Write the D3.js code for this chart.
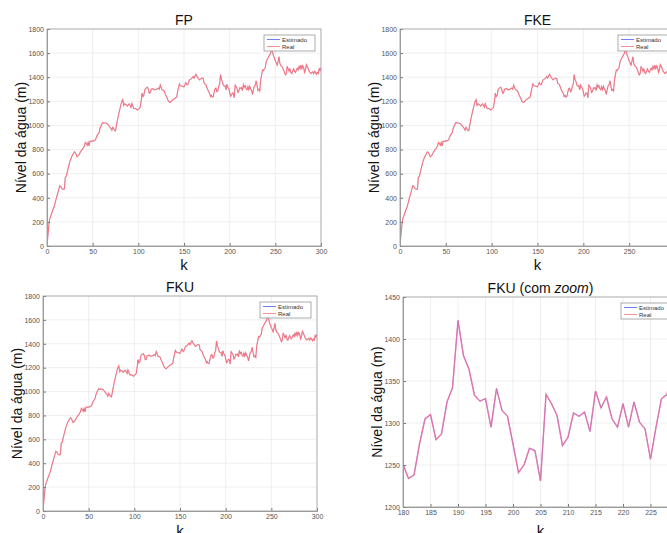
<!DOCTYPE html>
<html>
<head>
<meta charset="utf-8">
<script src="https://cdn.jsdelivr.net/npm/d3@7"></script>
<style>
  body { margin: 0; background: #fff; }
  svg { display: block; font-family: "Liberation Sans", Arial, sans-serif; }
  .grid line { stroke: #ebebeb; stroke-width: 0.8; }
  .tick text { fill: #555; font-size: 7px; }
</style>
</head>
<body>
<div id="chart"></div>
<script>
// readings of the water level: sample index k and level (m)
const kVals = [0,1,2,3,4,6,8,10,12,14,15,16,18,19,20,21,23,25,27,29,30,31,33,35,37,39,41,42,43,44,45,46,47,49,51,53,55,57,58,60,61,62,64,66,68,70,71,72,74,75,77,79,81,82,83,84,85,87,88,90,91,92,93,95,97,99,100,101,102,103,104,105,106,107,108,110,111,112,113,114,116,118,120,122,123,124,126,128,130,132,133,135,136,138,140,142,143,145,146,148,150,152,153,154,156,158,160,161,163,165,167,169,171,172,174,176,178,179,
  180,181,182,183,184,185,186,187,188,189,190,191,192,193,194,195,196,197,198,199,200,201,202,203,204,205,206,207,208,209,210,211,212,213,214,215,216,217,218,219,220,221,222,223,224,225,226,227,228,229,230,231,232,233,234,235,236,237,238,239,240,241,242,243,244,245,246,247,248,249,250,251,252,253,254,255,256,257,258,259,260,261,262,263,264,265,266,267,268,270,271,272,274,275,276,277,278,279,280,281,282,283,284,285,286,287,289,290,291,292,293,294,295,296,297,298,299,300];
const nivelReal = [0,90,170,225,245,290,330,390,445,500,495,478,470,472,570,575,640,700,740,770,782,775,740,755,785,805,830,860,850,835,860,830,868,870,872,880,920,940,975,1010,1025,1020,1020,1015,995,975,960,985,960,955,1040,1110,1175,1200,1215,1165,1180,1170,1160,1180,1165,1150,1182,1140,1140,1128,1135,1142,1150,1197,1267,1239,1250,1295,1308,1317,1300,1267,1270,1300,1305,1295,1300,1310,1300,1336,1295,1290,1253,1220,1200,1190,1200,1215,1225,1235,1280,1345,1330,1325,1320,1356,1340,1336,1378,1386,1406,1392,1425,1397,1378,1392,1392,1350,1336,1295,1267,1240,
  1251,1234,1238,1275,1305,1310,1280,1287,1325,1342,1422,1380,1364,1333,1326,1329,1295,1341,1315,1308,1275,1241,1250,1270,1267,1231,1334,1323,1309,1273,1283,1312,1308,1313,1290,1338,1318,1331,1305,1295,1323,1295,1325,1301,1293,1257,1295,1329,1334,1370,1330,1290,1300,1285,1380,1420,1460,1455,1470,1480,1530,1545,1560,1575,1585,1605,1620,1610,1575,1560,1535,1520,1500,1530,1570,1515,1495,1490,1480,1460,1440,1418,1430,1490,1470,1450,1470,1440,1430,1470,1450,1440,1475,1460,1490,1470,1500,1470,1495,1480,1440,1460,1505,1490,1470,1450,1430,1440,1445,1430,1450,1440,1425,1440,1430,1470,1455,1480];
// the estimate lies on top of the real level everywhere in the figure
const nivelEstimado = nivelReal.slice();

const fullTicksX = [0,50,100,150,200,250,300];
const fullTicksY = [0,200,400,600,800,1000,1200,1400,1600,1800];
const zoomTicksX = [180,185,190,195,200,205,210,215,220,225,230];
const zoomTicksY = [1200,1250,1300,1350,1400,1450];
const legendLabels = ["Estimado", "Real"];

const W = 667, H = 533;
const svg = d3.select("#chart").append("svg").attr("width", W).attr("height", H);

const real = kVals.map((k, i) => ({k: k, v: nivelReal[i]}));
const est = kVals.map((k, i) => ({k: k, v: nivelEstimado[i]}));

// panels: position of the plot box, domains and titles
const panels = [
  {id: "p1", title: ["FP"], x0: 47, x1: 321, y0: 29, y1: 246, xd: [0, 300], yd: [0, 1800], tx: fullTicksX, ty: fullTicksY, kY: 270, zoom: false},
  {id: "p2", title: ["FKE"], x0: 400, x1: 675, y0: 29, y1: 246, xd: [0, 300], yd: [0, 1800], tx: fullTicksX, ty: fullTicksY, kY: 270, zoom: false},
  {id: "p3", title: ["FKU"], x0: 43, x1: 317, y0: 296, y1: 511, xd: [0, 300], yd: [0, 1800], tx: fullTicksX, ty: fullTicksY, kY: 536, zoom: false},
  {id: "p4", title: ["FKU (com ", "zoom", ")"], x0: 403, x1: 678, y0: 297, y1: 507, xd: [180, 230], yd: [1200, 1450], tx: zoomTicksX, ty: zoomTicksY, kY: 536, zoom: true}
];

panels.forEach(p => {
  const x = d3.scaleLinear().domain(p.xd).range([p.x0, p.x1]);
  const y = d3.scaleLinear().domain(p.yd).range([p.y1, p.y0]);
  const g = svg.append("g");

  // grid
  const grid = g.append("g").attr("class", "grid");
  grid.selectAll("line.gx").data(p.tx).join("line")
    .attr("class", "gx")
    .attr("x1", d => x(d)).attr("x2", d => x(d))
    .attr("y1", p.y0).attr("y2", p.y1);
  grid.selectAll("line.gy").data(p.ty).join("line")
    .attr("class", "gy")
    .attr("x1", p.x0).attr("x2", p.x1)
    .attr("y1", d => y(d)).attr("y2", d => y(d));

  // clipped data lines
  g.append("clipPath").attr("id", "clip-" + p.id)
    .append("rect").attr("x", p.x0).attr("y", p.y0)
    .attr("width", p.x1 - p.x0).attr("height", p.y1 - p.y0);

  const line = d3.line().x(d => x(d.k)).y(d => y(d.v));
  const inDom = d => d.k >= p.xd[0] - 2 && d.k <= p.xd[1] + 2;
  const lines = g.append("g").attr("clip-path", "url(#clip-" + p.id + ")");
  lines.append("path").datum(est.filter(inDom))
    .attr("d", line).attr("fill", "none")
    .attr("stroke", "#3040ff").attr("stroke-width", p.zoom ? 0.6 : 0.3);
  lines.append("path").datum(real.filter(inDom))
    .attr("d", line).attr("fill", "none")
    .attr("stroke", p.zoom ? "#f06a9a" : "#ff6060")
    .attr("stroke-opacity", p.zoom ? 0.75 : 0.8)
    .attr("stroke-width", p.zoom ? 1.5 : 1.1);

  // axes (MATLAB style: ticks inwards)
  g.append("g").attr("transform", "translate(0," + p.y1 + ")")
    .call(d3.axisBottom(x).tickValues(p.tx).tickSize(-3).tickPadding(3).tickFormat(d3.format("d")))
    .call(a => a.select(".domain").attr("stroke", "#999"))
    .call(a => a.selectAll(".tick line").attr("stroke", "#777"));
  g.append("g").attr("transform", "translate(" + p.x0 + ",0)")
    .call(d3.axisLeft(y).tickValues(p.ty).tickSize(-3).tickPadding(3).tickFormat(d3.format("d")))
    .call(a => a.select(".domain").attr("stroke", "#999"))
    .call(a => a.selectAll(".tick line").attr("stroke", "#777"));
  g.append("rect").attr("x", p.x0).attr("y", p.y0)
    .attr("width", p.x1 - p.x0).attr("height", p.y1 - p.y0)
    .attr("fill", "none").attr("stroke", "#a0a0a0").attr("stroke-width", 0.8);

  // title
  const t = g.append("text").attr("x", (p.x0 + p.x1) / 2).attr("y", p.y0 - 4)
    .attr("text-anchor", "middle").attr("font-size", 14).attr("fill", "#111");
  p.title.forEach((s, i) => t.append("tspan").text(s).attr("font-style", i === 1 ? "italic" : null));

  // axis labels
  g.append("text").attr("x", (p.x0 + p.x1) / 2).attr("y", p.kY)
    .attr("text-anchor", "middle").attr("font-size", 15).attr("fill", "#111").text("k");
  g.append("text")
    .attr("transform", "translate(" + (p.x0 - 21) + "," + ((p.y0 + p.y1) / 2) + ") rotate(-90)")
    .attr("text-anchor", "middle").attr("font-size", 14).attr("fill", "#111")
    .text("Nível da água (m)");

  // legend
  const lw = 51, lh = 16;
  const lx = p.x1 - 6 - lw, ly = p.y0 + 6;
  const lg = g.append("g").attr("transform", "translate(" + lx + "," + ly + ")");
  lg.append("rect").attr("width", lw).attr("height", lh)
    .attr("fill", "#fff").attr("stroke", "#888").attr("stroke-width", 0.7);
  const cols = ["#7080ff", "#ff9090"];
  legendLabels.forEach((lab, i) => {
    const yy = 4.5 + i * 7;
    lg.append("line").attr("x1", 3).attr("x2", 16).attr("y1", yy).attr("y2", yy)
      .attr("stroke", cols[i]).attr("stroke-width", 1);
    lg.append("text").attr("x", 18).attr("y", yy + 2).attr("font-size", 6)
      .attr("fill", "#333").text(lab);
  });
});
</script>
</body>
</html>
